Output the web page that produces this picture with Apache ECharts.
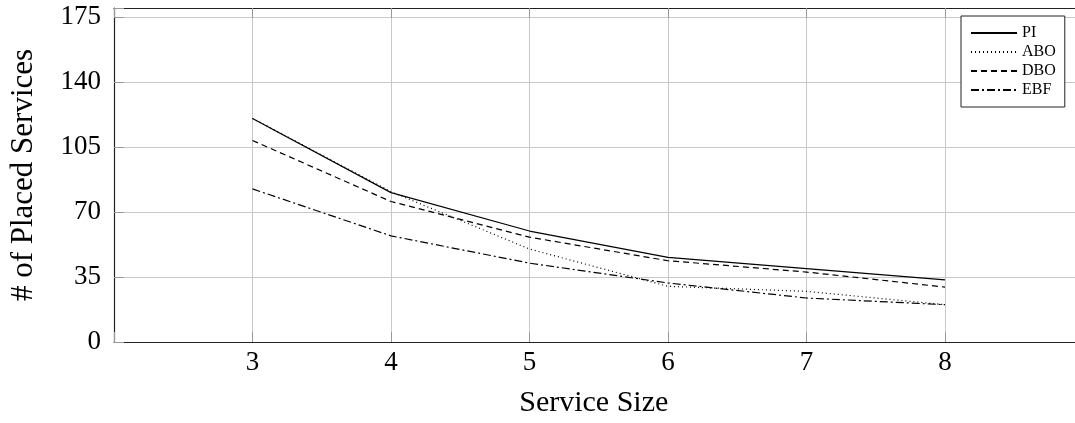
<!DOCTYPE html>
<html>
<head>
<meta charset="utf-8">
<script src="https://cdn.jsdelivr.net/npm/echarts@6/dist/echarts.min.js"></script>
<style>html,body{margin:0;padding:0;background:#fff;overflow:hidden;}#c{width:1075px;height:423px;}</style>
</head>
<body>
<div id="c"></div>
<script>
const serviceSizes = [3, 4, 5, 6, 7, 8];
const piValues  = [120.5, 80.5, 59.8, 45.6, 39.5, 33.5];
const aboValues = [120.5, 81.0, 50.1, 30.0, 27.3, 20.1];
const dboValues = [108.6, 75.7, 56.5, 43.8, 37.7, 29.6];
const ebfValues = [82.5, 57.2, 42.5, 31.8, 23.7, 20.1];
const yTickLabels = [0, 35, 70, 105, 140, 175];
const xTickLabels = [3, 4, 5, 6, 7, 8];

const FONT = 'Liberation Serif';
const pair = (vals) => serviceSizes.map((x, i) => [x, vals[i]]);
const lineSeries = (name, vals, type) => ({
  name, type: 'line', data: pair(vals), symbol: 'none', silent: true,
  lineStyle: { color: '#000', width: 1.2, type: type },
  itemStyle: { color: '#000' }
});

const chart = echarts.init(document.getElementById('c'), null, { renderer: 'canvas' });
chart.setOption({
  animation: false,
  backgroundColor: '#fff',
  textStyle: { fontFamily: FONT },
  grid: { left: 114, width: 969.5, top: 8, bottom: 81, containLabel: false, outerBoundsMode: 'none' },
  legend: {
    orient: 'vertical', left: 961, top: 16,
    backgroundColor: '#fff', borderColor: '#222', borderWidth: 1,
    padding: [9, 9, 9, 9], itemWidth: 46, itemHeight: 14, itemGap: 3,
    itemStyle: { opacity: 0 },
    textStyle: { fontFamily: FONT, fontSize: 16, color: '#000' },
    data: ['PI', 'ABO', 'DBO', 'EBF']
  },
  xAxis: [{
    type: 'value', min: 2, max: 9, interval: 1,
    name: 'Service Size', nameLocation: 'middle', nameGap: 46,
    nameTextStyle: { fontFamily: FONT, fontSize: 30, color: '#000', padding: [0, 10, 0, 0] },
    axisLine: { show: true, lineStyle: { color: '#222', width: 1.2 } },
    axisTick: { show: true, inside: true, length: 10, lineStyle: { color: '#999' } },
    axisLabel: { fontFamily: FONT, fontSize: 27, color: '#000', margin: 7,
      formatter: v => xTickLabels.includes(v) ? String(v) : '' },
    splitLine: { show: true, lineStyle: { color: '#c8c8c8', width: 1 } }
  }, {
    type: 'value', min: 2, max: 9, interval: 1, position: 'top',
    axisLine: { show: true, lineStyle: { color: '#222', width: 1.2 } },
    axisTick: { show: true, inside: true, length: 10, lineStyle: { color: '#999' } },
    axisLabel: { show: false }, splitLine: { show: false }
  }],
  yAxis: {
    type: 'value', min: 0, max: 180, interval: 35,
    name: '# of Placed Services', nameLocation: 'middle', nameGap: 75,
    nameTextStyle: { fontFamily: FONT, fontSize: 31, color: '#000' },
    axisLine: { show: true, lineStyle: { color: '#222', width: 1.2 } },
    axisTick: { show: true, inside: true, length: 10, lineStyle: { color: '#999' } },
    axisLabel: { fontFamily: FONT, fontSize: 27, color: '#000', margin: 13,
      formatter: v => yTickLabels.includes(v) ? String(v) : '' },
    splitLine: { show: true, lineStyle: { color: '#c8c8c8', width: 1 } }
  },
  series: [
    lineSeries('PI', piValues, 'solid'),
    lineSeries('ABO', aboValues, [1, 3]),
    lineSeries('DBO', dboValues, [6, 4]),
    lineSeries('EBF', ebfValues, [8, 3, 2, 3])
  ]
});
</script>
</body>
</html>
